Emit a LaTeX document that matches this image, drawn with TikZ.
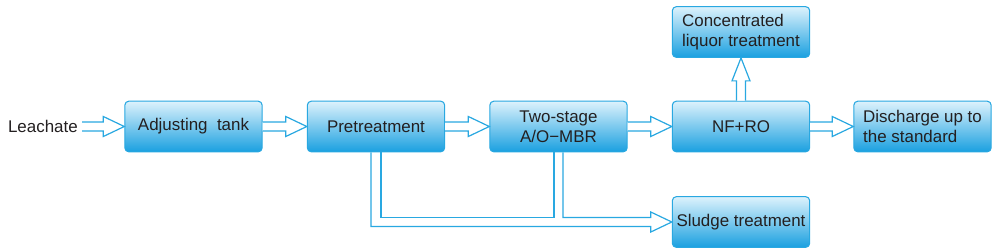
\documentclass[tikz,border=0pt]{standalone}
\usepackage{fontspec}
\setmainfont{Liberation Sans}
\usetikzlibrary{calc}
\definecolor{lineblue}{HTML}{29A8E1}
\definecolor{boxtop}{HTML}{DDF2FC}
\definecolor{boxbot}{HTML}{1AA0E0}
\definecolor{txt}{HTML}{231F20}
\tikzset{
  procbox/.style={draw=lineblue, line width=0.8pt, rounded corners=3pt,
    top color=boxtop, bottom color=boxbot, shading angle=0,
    minimum width=103pt, minimum height=38pt, inner sep=2pt,
    text=txt, font=\fontsize{12.7}{15}\selectfont},
  harrow/.style={draw=lineblue, line width=0.9pt, line join=miter, fill=white},
  plainline/.style={draw=lineblue, line width=0.9pt, line join=miter}
}
\newcommand{\hollowarrow}[2]{%
  \draw[harrow] ($(#1.east)+(0,-4.5)$) -- ($(#2.west)+(-21,-4.5)$) -- ($(#2.west)+(-21,-10)$) -- (#2.west)
    -- ($(#2.west)+(-21,10)$) -- ($(#2.west)+(-21,4.5)$) -- ($(#1.east)+(0,4.5)$);}
\begin{document}
\begin{tikzpicture}[x=0.75pt,y=-0.75pt]
\useasboundingbox (0,0) rectangle (1000,247);
\node[text=txt, font=\fontsize{12.7}{15}\selectfont, anchor=east, inner sep=0pt] (lea) at (78,126.5) {Leachate};
\coordinate (leaE) at (82,126.5);
\node[procbox] (adj) at (193.5,126.5) {Adjusting\ \ tank};
\node[procbox] (pre) at (376,126.5) {Pretreatment};
\node[procbox, align=center] (two) at (558.5,126.5) {Two-stage\\A/O−MBR};
\node[procbox] (nf) at (741,126.5) {NF+RO};
\node[procbox, align=left] (conc) at (741,32) {Concentrated\\liquor treatment};
\node[procbox, align=left] (dis) at (922.5,126.5) {Discharge up to\\the standard};
\node[procbox] (sl) at (741,222) {Sludge treatment};

% horizontal hollow arrows
\draw[harrow] ($(leaE)+(0,-4.5)$) -- ($(adj.west)+(-21,-4.5)$) -- ($(adj.west)+(-21,-10)$) -- (adj.west)
    -- ($(adj.west)+(-21,10)$) -- ($(adj.west)+(-21,4.5)$) -- ($(leaE)+(0,4.5)$);
\hollowarrow{adj}{pre}
\hollowarrow{pre}{two}
\hollowarrow{two}{nf}
\hollowarrow{nf}{dis}

% up arrow to concentrated liquor treatment
\draw[harrow] ($(nf.north)+(-4.5,0)$) -- ($(conc.south)+(-4.5,23)$) -- ($(conc.south)+(-9,23)$) -- (conc.south)
    -- ($(conc.south)+(9,23)$) -- ($(conc.south)+(4.5,23)$) -- ($(nf.north)+(4.5,0)$);

% sludge lines
\coordinate (twoL) at ($(two.south)+(-4.5,0)$);
\coordinate (slTop) at ($(sl.west)+(0,-4.5)$);
\draw[plainline] ($(pre.south)+(-5,0)$) |- ($(sl.west)+(-21,4.5)$) -- ($(sl.west)+(-21,10)$) -- (sl.west)
    -- ($(sl.west)+(-21,-10)$) -- ($(sl.west)+(-21,-4.5)$) -| ($(two.south)+(4.5,0)$);
\draw[plainline] ($(pre.south)+(5,0)$) |- (twoL |- slTop) -- (twoL);
\end{tikzpicture}
\end{document}
